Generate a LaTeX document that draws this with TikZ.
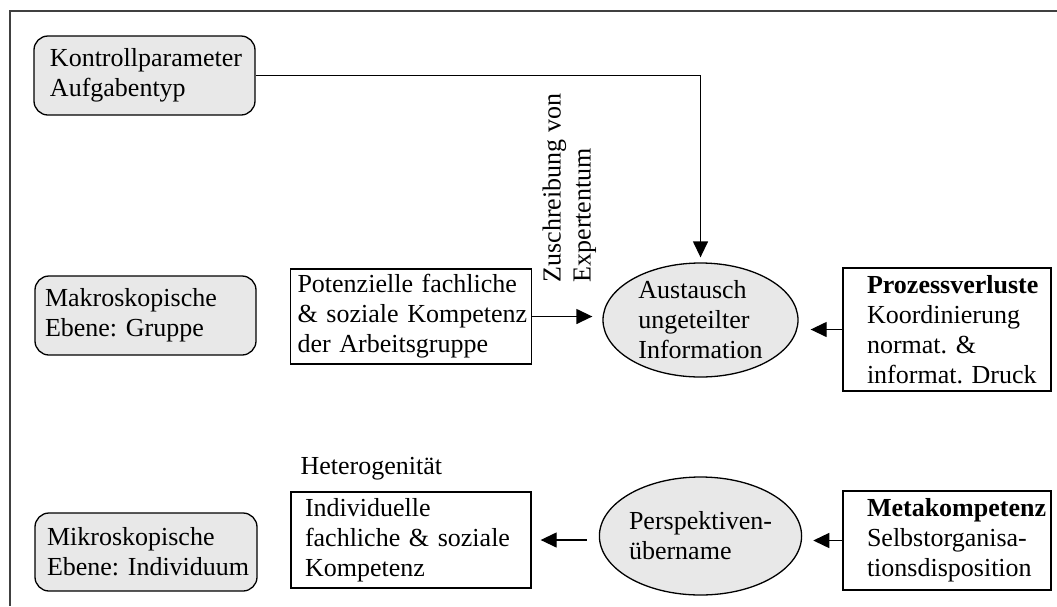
\documentclass[tikz,border=0pt]{standalone}
\usepackage{fontspec}
\setmainfont{Liberation Serif}
\usetikzlibrary{shapes.geometric,arrows.meta}
\definecolor{gbg}{HTML}{E8E8E8}
\frenchspacing
\tikzset{
  base/.style={font=\fontsize{26}{30}\selectfont\frenchspacing, line width=1.3pt},
  box/.style args={#1/#2/#3}{draw, base, rectangle, inner xsep=0pt, inner ysep=0pt,
    text width=#1pt, minimum height=#2pt, align=left,
    execute at begin node={\leftskip=#3pt\rightskip=-20pt plus 1fil\hyphenpenalty=10000\relax}},
  graybox/.style={fill=gbg, rounded corners=14pt},
  ell/.style={draw, base, ellipse, fill=gbg, inner sep=0pt, align=left},
  arr/.style={line width=1.3pt, -{Triangle[length=16pt,width=15pt]}},
  plain/.style={base, inner sep=0pt}
}
\begin{document}
\begin{tikzpicture}[x=1pt,y=-1pt]
\useasboundingbox (0,0) rectangle (1057,606);
\draw[line width=1.8pt, black!75] (1057,11) -- (10,11) -- (10,606);

\node[box=221/79/16, graybox] (kp) at (144.5,75.5) {Kontrollparameter\\Aufgabentyp};
\node[box=221/79/10, graybox] (makro) at (145.5,315.5) {Makroskopische\\Ebene: Gruppe};
\node[box=222/78/12, graybox] (mikro) at (146,552) {Mikroskopische\\Ebene: Individuum};
\node[box=241/95/7] (pot) at (411,316.5) {Potenzielle fachliche\\\& soziale Kompetenz\\der Arbeitsgruppe};
\node[box=240/96/14] (ind) at (411,540) {Individuelle\\fachliche \& soziale\\Kompetenz};
\node[box=208/123/24] (prz) at (947,329.5) {\textbf{Prozessverluste}\\Koordinierung\\normat. \&\\informat. Druck};
\node[box=208/99/24] (meta) at (947,540.5) {\textbf{Metakompetenz}\\Selbstorganisa-\\tionsdisposition};

\node[ell, minimum width=195pt, minimum height=114pt] (aus) at (700.5,320) {Austausch\\ungeteilter\\Information};
\node[ell, minimum width=197pt, minimum height=118pt] (per) at (700.5,536) {Perspektiven-\\übername};

\node[plain, anchor=base west] (het) at (300,474) {Heterogenität};
\node[plain, rotate=90, anchor=north west, align=left] (zus) at (542,283) {Zuschreibung von\\Expertentum};

\draw[arr, shorten >=5pt] (kp.east) -| (aus.north);
\draw[arr, shorten >=10pt] (pot.east) -- (pot.east -| aus.west);
\draw[arr, shorten >=12pt] (prz.west) -- (prz.west -| aus.east);
\draw[arr, shorten <=12pt, shorten >=9pt] (ind.east -| per.west) -- (ind.east);
\draw[arr, shorten >=11pt] (meta.west) -- (meta.west -| per.east);
\end{tikzpicture}
\end{document}
